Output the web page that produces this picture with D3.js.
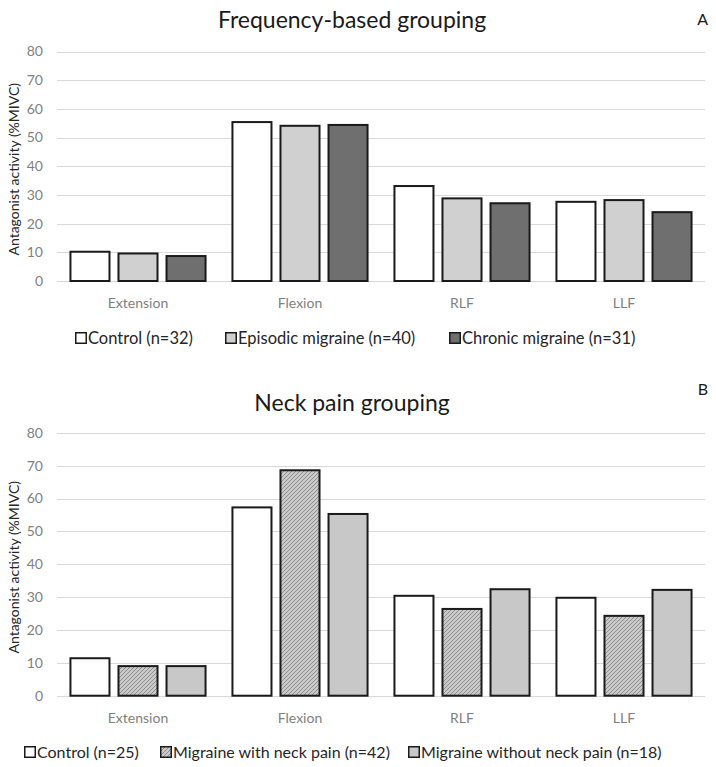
<!DOCTYPE html>
<html>
<head>
  <meta charset="utf-8">
  <title>Antagonist activity</title>
  <script src="https://d3js.org/d3.v7.min.js"></script>
  <style>
    body { margin: 0; padding: 0; background: white; }
    svg { font-family: Lato, "Open Sans", sans-serif; }
    .grid line { stroke: #d9d9d9; stroke-width: 1px; }
    .tick-label { fill: #7f7f7f; font-size: 14px; }
    .cat-label { fill: #7f7f7f; font-size: 14px; }
    .legend text { fill: #262626; }
  </style>
</head>
<body>
<div id="chart"></div>
<script>
  // data
  var categories = ["Extension", "Flexion", "RLF", "LLF"];
  var yTicks = [0, 10, 20, 30, 40, 50, 60, 70, 80];

  var freqSeries = ["Control (n=32)", "Episodic migraine (n=40)", "Chronic migraine (n=31)"];
  var freqControl = [10.2, 55.4, 33.1, 27.6];
  var freqEpisodic = [9.6, 54.1, 28.8, 28.2];
  var freqChronic = [8.7, 54.4, 27.1, 24.0];

  var neckSeries = ["Control (n=25)", "Migraine with neck pain (n=42)", "Migraine without neck pain (n=18)"];
  var neckControl = [11.4, 57.3, 30.4, 29.8];
  var neckWith = [9.0, 68.6, 26.4, 24.3];
  var neckWithout = [9.0, 55.3, 32.4, 32.2];

  var width = 716, height = 767;

  var svg = d3.select("#chart").append("svg")
      .attr("width", width)
      .attr("height", height);

  // hatch pattern for "with neck pain"
  var defs = svg.append("defs");
  var pat = defs.append("pattern")
      .attr("id", "hatch")
      .attr("patternUnits", "userSpaceOnUse")
      .attr("width", 4)
      .attr("height", 4);
  pat.append("rect").attr("width", 4).attr("height", 4).attr("fill", "#cacaca");
  pat.append("path")
      .attr("d", "M-1,1 l2,-2 M0,4 l4,-4 M3,5 l2,-2")
      .attr("stroke", "#858585")
      .attr("stroke-width", 0.9);

  var x0 = d3.scaleBand().domain(categories).range([57, 705]);
  var x1 = d3.scaleBand().domain([0, 1, 2])
      .range([0, x0.bandwidth()])
      .paddingInner(0.1875)
      .paddingOuter(0.28);

  function drawPanel(opt) {
    var y = d3.scaleLinear().domain([0, 80]).range([opt.y0, opt.y80]);
    var g = svg.append("g");

    g.append("text")
      .attr("x", 352).attr("y", opt.titleY)
      .attr("text-anchor", "middle")
      .attr("font-size", 23)
      .attr("fill", "#1a1a1a")
      .text(opt.title);

    g.append("text")
      .attr("x", 708).attr("y", opt.letterY)
      .attr("text-anchor", "end")
      .attr("font-size", 16)
      .attr("fill", "#1a1a1a")
      .text(opt.letter);

    // gridlines
    g.append("g").attr("class", "grid")
      .selectAll("line").data(yTicks).enter().append("line")
      .attr("x1", 57).attr("x2", 705)
      .attr("y1", function(d) { return Math.round(y(d)) + 0.5; })
      .attr("y2", function(d) { return Math.round(y(d)) + 0.5; });

    g.selectAll(".tick-label").data(yTicks).enter().append("text")
      .attr("class", "tick-label")
      .attr("x", 43)
      .attr("y", function(d) { return y(d); })
      .attr("dy", "0.35em")
      .attr("text-anchor", "end")
      .text(function(d) { return d; });

    g.append("text")
      .attr("transform", "translate(14," + ((opt.y0 + opt.y80) / 2 + 3) + ") rotate(-90)")
      .attr("dy", "0.35em")
      .attr("text-anchor", "middle")
      .attr("font-size", 14)
      .attr("fill", "#262626")
      .text("Antagonist activity (%MIVC)");

    // bars
    var groups = g.selectAll(".cat").data(categories).enter().append("g")
      .attr("transform", function(d) { return "translate(" + x0(d) + ",0)"; });

    groups.selectAll("rect")
      .data(function(d, i) {
        return opt.values.map(function(v, s) { return { s: s, v: v[i] }; });
      })
      .enter().append("rect")
      .attr("x", function(d) { return x1(d.s); })
      .attr("width", x1.bandwidth())
      .attr("y", function(d) { return y(d.v); })
      .attr("height", function(d) { return opt.y0 - y(d.v); })
      .attr("fill", function(d) { return opt.fills[d.s]; })
      .attr("stroke", "#1a1a1a")
      .attr("stroke-width", 2);

    g.selectAll(".cat-label").data(categories).enter().append("text")
      .attr("class", "cat-label")
      .attr("x", function(d) { return x0(d) + x0.bandwidth() / 2; })
      .attr("y", opt.y0 + 22)
      .attr("dy", "0.35em")
      .attr("text-anchor", "middle")
      .text(function(d) { return d; });

    // legend
    var leg = g.selectAll(".legend").data(opt.series).enter().append("g")
      .attr("class", "legend")
      .attr("transform", function(d, i) { return "translate(" + opt.legendX[i] + "," + opt.legendY + ")"; });
    leg.append("rect")
      .attr("x", 0.75).attr("y", -5.25)
      .attr("width", 10.5).attr("height", 10.5)
      .attr("fill", function(d, i) { return opt.fills[i]; })
      .attr("stroke", "#1a1a1a")
      .attr("stroke-width", 1.5);
    leg.append("text")
      .attr("x", 13)
      .attr("dy", "0.35em")
      .attr("font-size", opt.legendSize)
      .text(function(d) { return d; });
  }

  drawPanel({
    title: "Frequency-based grouping", letter: "A",
    titleY: 28, letterY: 25,
    y0: 281, y80: 51.5,
    series: freqSeries,
    values: [freqControl, freqEpisodic, freqChronic],
    fills: ["#ffffff", "#d0d0d0", "#6f6f6f"],
    legendX: [75, 225, 449], legendY: 338, legendSize: 16.5
  });

  drawPanel({
    title: "Neck pain grouping", letter: "B",
    titleY: 411, letterY: 395,
    y0: 695.7, y80: 432.8,
    series: neckSeries,
    values: [neckControl, neckWith, neckWithout],
    fills: ["#ffffff", "url(#hatch)", "#c8c8c8"],
    legendX: [24, 160, 408], legendY: 752, legendSize: 16
  });
</script>
</body>
</html>
